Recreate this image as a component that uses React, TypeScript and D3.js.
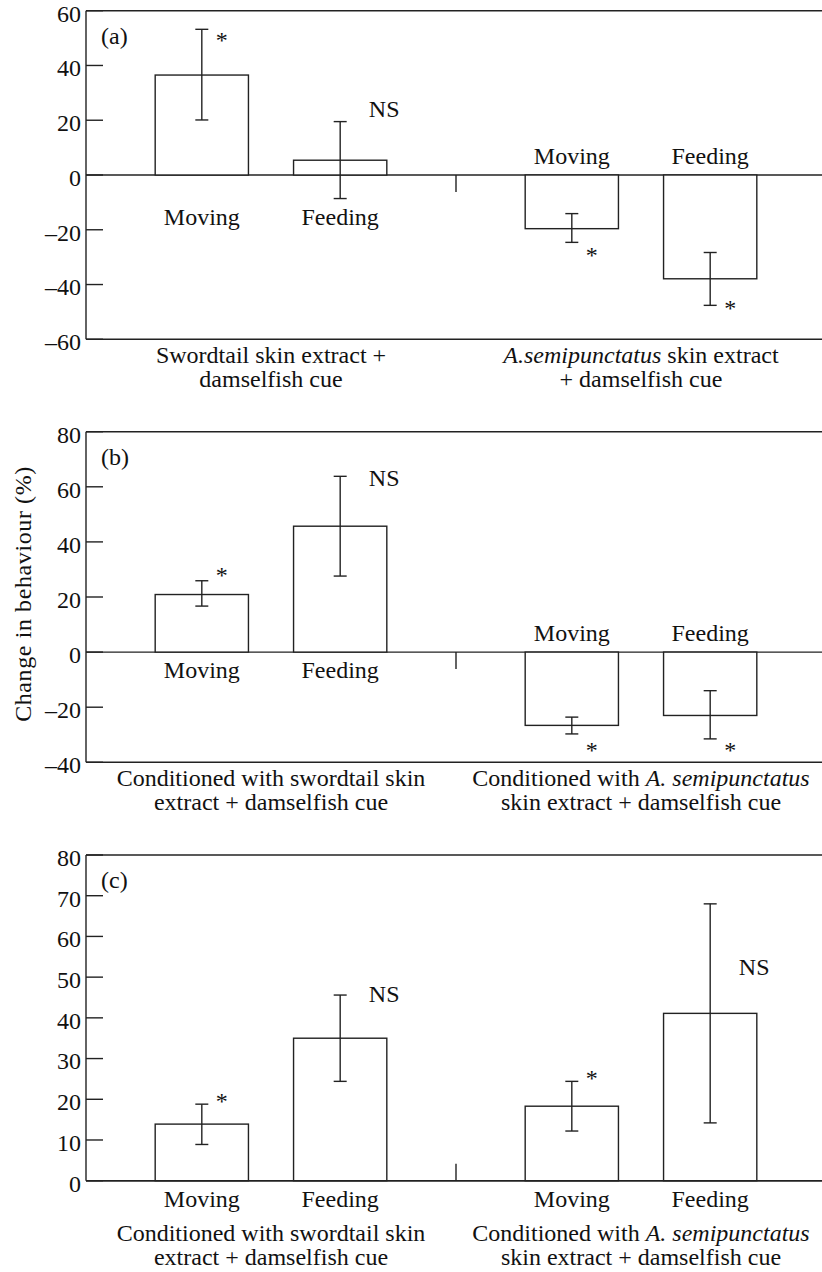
import React from "react";
import * as d3 from "d3";

const groups = ["sword", "semi"];
const behaviours = ["Moving", "Feeding"];

// (a) skin extract + damselfish cue
const aMean = [36.5, 5.4, -19.6, -37.9];
const aLow = [20.1, -8.6, -24.6, -47.6];
const aHigh = [53.2, 19.5, -14.1, -28.3];
const aSig = ["*", "NS", "*", "*"];
const aSigAt = [50.3, 24, -28.3, -47.3];
const aTicks = [-60, -40, -20, 0, 20, 40, 60];
const aCats = [
  ["Swordtail skin extract +", "damselfish cue"],
  ["_A.semipunctatus_ skin extract", "+ damselfish cue"],
];

// (b) conditioned, tested with damselfish cue
const bMean = [20.9, 45.7, -26.6, -23.0];
const bLow = [16.7, 27.6, -29.7, -31.5];
const bHigh = [25.9, 63.8, -23.6, -14.0];
const bSig = ["*", "NS", "*", "*"];
const bSigAt = [29.1, 63.2, -34.4, -34.4];
const bTicks = [-40, -20, 0, 20, 40, 60, 80];
const bCats = [
  ["Conditioned with swordtail skin", "extract + damselfish cue"],
  ["Conditioned with _A. semipunctatus_", "skin extract + damselfish cue"],
];

// (c)
const cMean = [13.9, 35.0, 18.3, 41.1];
const cLow = [8.9, 24.4, 12.2, 14.2];
const cHigh = [18.8, 45.6, 24.4, 68.0];
const cSig = ["*", "NS", "*", "NS"];
const cSigAt = [20.2, 45.9, 26.0, 52.5];
const cTicks = [0, 10, 20, 30, 40, 50, 60, 70, 80];
const cCats = [
  ["Conditioned with swordtail skin", "extract + damselfish cue"],
  ["Conditioned with _A. semipunctatus_", "skin extract + damselfish cue"],
];

const W = 822;
const H = 1272;
const LEFT = 86;
const INK = "#222";
const TXT = { fontFamily: "Liberation Serif", fontSize: 24, fill: "#111" };

const panels = [
  { tag: "(a)", top: 10.7, bottom: 339.3, domain: [-60, 60], ticks: aTicks, mean: aMean, low: aLow, high: aHigh, sig: aSig, sigAt: aSigAt, cats: aCats },
  { tag: "(b)", top: 431.7, bottom: 762.3, domain: [-40, 80], ticks: bTicks, mean: bMean, low: bLow, high: bHigh, sig: bSig, sigAt: bSigAt, cats: bCats },
  { tag: "(c)", top: 855, bottom: 1180.7, domain: [0, 80], ticks: cTicks, mean: cMean, low: cLow, high: cHigh, sig: cSig, sigAt: cSigAt, cats: cCats },
];

// "_..._" marks italic runs
function Line({ text, x, y }: { text: string; x: number; y: number }) {
  const parts = text.split("_");
  return (
    <text x={x} y={y} textAnchor="middle" style={TXT}>
      {parts.map((s, i) => (
        <tspan key={i} style={{ fontStyle: i % 2 === 1 ? "italic" : "normal" }}>{s}</tspan>
      ))}
    </text>
  );
}

function Panel({ p }: { p: any }) {
  const y = d3.scaleLinear().domain(p.domain).range([p.bottom, p.top]);
  const x0 = d3.scaleBand().domain(groups).range([LEFT, 826]);
  const x1 = d3
    .scaleBand()
    .domain(behaviours)
    .range([0, x0.bandwidth()])
    .paddingInner(0.326)
    .paddingOuter(0.5);
  const bw = x1.bandwidth();
  const y0 = y(0);

  const items = p.mean.map((v: number, i: number) => {
    const g = groups[Math.floor(i / 2)];
    const b = behaviours[i % 2];
    return { g, b, v, lo: p.low[i], hi: p.high[i], sig: p.sig[i], at: p.sigAt[i], x: (x0(g) as number) + (x1(b) as number) };
  });

  // Moving/Feeding labels: above the zero line for negative groups, else below
  const labelY: Record<string, number> = {};
  groups.forEach((g) => {
    const its = items.filter((d: any) => d.g === g);
    if (its.every((d: any) => d.v < 0)) labelY[g] = y0 - 11;
    else labelY[g] = Math.max(y0, y(d3.min(its, (d: any) => d.lo) as number)) + 26;
  });
  const catY = Math.max(p.bottom + 24, ...groups.map((g) => (labelY[g] > y0 ? labelY[g] + 34 : 0)));
  const divX = x0("semi") as number;
  const divDir = p.domain[0] < 0 ? 1 : -1;

  return (
    <g>
      {/* frame */}
      <line x1={LEFT} x2={W} y1={p.top} y2={p.top} stroke={INK} strokeWidth={1.4} />
      <line x1={LEFT} x2={W} y1={p.bottom} y2={p.bottom} stroke={INK} strokeWidth={1.4} />
      <line x1={LEFT} x2={LEFT} y1={p.top} y2={p.bottom} stroke={INK} strokeWidth={1.4} />
      <line x1={LEFT} x2={W} y1={y0} y2={y0} stroke={INK} strokeWidth={1.4} />
      <line x1={divX} x2={divX} y1={y0} y2={y0 + divDir * 17} stroke={INK} strokeWidth={1.4} />
      {p.ticks.map((t: number) => (
        <g key={t}>
          <line x1={LEFT} x2={LEFT + 17} y1={y(t)} y2={y(t)} stroke={INK} strokeWidth={1.4} />
          <text x={LEFT - 5} y={y(t)} dy="0.45em" textAnchor="end" style={TXT}>
            {t < 0 ? "\u2013" + Math.abs(t) : t}
          </text>
        </g>
      ))}
      <text x={LEFT + 15} y={p.top + 33} style={TXT}>{p.tag}</text>

      {items.map((d: any, i: number) => {
        const cx = d.x + bw / 2;
        const isStar = d.sig === "*";
        return (
          <g key={i}>
            <rect
              x={d.x}
              y={y(Math.max(0, d.v))}
              width={bw}
              height={Math.abs(y(d.v) - y0)}
              fill="#fff"
              stroke={INK}
              strokeWidth={1.4}
            />
            <line x1={cx} x2={cx} y1={y(d.lo)} y2={y(d.hi)} stroke={INK} strokeWidth={1.4} />
            <line x1={cx - 6.5} x2={cx + 6.5} y1={y(d.lo)} y2={y(d.lo)} stroke={INK} strokeWidth={1.4} />
            <line x1={cx - 6.5} x2={cx + 6.5} y1={y(d.hi)} y2={y(d.hi)} stroke={INK} strokeWidth={1.4} />
            <text x={cx + (isStar ? 20 : 44)} y={y(d.at) + (isStar ? 11 : 8)} textAnchor="middle" style={TXT}>
              {d.sig}
            </text>
            <text x={cx} y={labelY[d.g]} textAnchor="middle" style={TXT}>{d.b}</text>
          </g>
        );
      })}

      {groups.map((g, gi) => {
        const cx = (x0(g) as number) + x0.bandwidth() / 2;
        return (
          <g key={g}>
            {p.cats[gi].map((s: string, li: number) => (
              <Line key={li} text={s} x={cx} y={catY + li * 24} />
            ))}
          </g>
        );
      })}
    </g>
  );
}

export default function App() {
  return (
    <div style={{ position: "absolute", left: 0, top: 0 }}>
      <svg width={W} height={H} style={{ display: "block", background: "#fff" }}>
        {panels.map((p) => (
          <Panel key={p.tag} p={p} />
        ))}
        <text
          transform="translate(23,594) rotate(-90)"
          textAnchor="middle"
          dy="0.35em"
          style={{ ...TXT, letterSpacing: 0.6 }}
        >
          Change in behaviour (%)
        </text>
      </svg>
    </div>
  );
}
